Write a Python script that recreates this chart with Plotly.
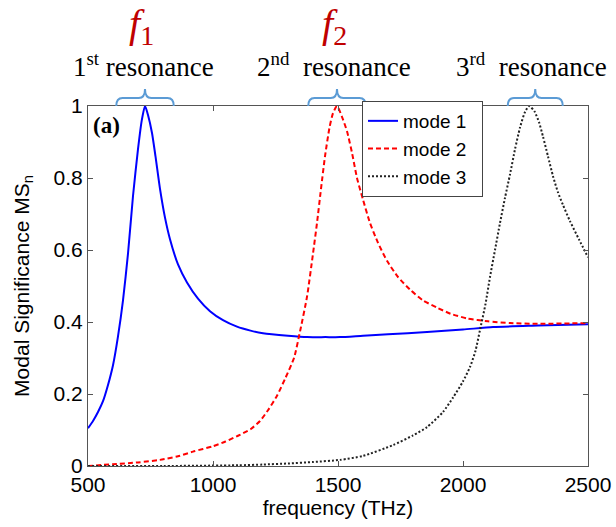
import plotly.graph_objects as go

# ---------------- data ----------------
f_mode1 = [500, 520, 540, 560, 580, 600, 620, 640, 660, 680, 700, 715, 728, 740, 756, 770, 788,
           808, 828, 860, 896, 940, 988, 1040, 1096, 1150, 1200, 1300, 1376, 1450, 1508,
           1600, 1700, 1856, 2000, 2120, 2300, 2500]
ms_mode1 = [0.105, 0.125, 0.15, 0.18, 0.225, 0.28, 0.36, 0.46, 0.59, 0.75, 0.88, 0.96, 1.0,
            0.975, 0.925, 0.86, 0.77, 0.69, 0.63, 0.56, 0.51, 0.465, 0.43, 0.405, 0.387,
            0.376, 0.369, 0.362, 0.358, 0.358, 0.358, 0.362, 0.366, 0.372, 0.379, 0.386,
            0.39, 0.394]

f_mode2 = [500, 600, 700, 788, 860, 920, 1000, 1050, 1100, 1150, 1188, 1220, 1256, 1290, 1324,
           1350, 1376, 1400, 1416, 1432, 1448, 1466, 1480, 1496, 1516, 1536, 1556, 1576, 1600,
           1628, 1660, 1696, 1740, 1788, 1840, 1896, 1950, 2016, 2100, 2188, 2300, 2500]
ms_mode2 = [0.0, 0.005, 0.01, 0.017, 0.027, 0.04, 0.055, 0.068, 0.084, 0.102, 0.125, 0.155,
            0.195, 0.245, 0.30, 0.38, 0.47, 0.59, 0.675, 0.77, 0.86, 0.94, 0.98, 1.0, 0.97,
            0.93, 0.87, 0.80, 0.74, 0.675, 0.62, 0.57, 0.525, 0.49, 0.46, 0.44, 0.423, 0.41,
            0.402, 0.397, 0.395, 0.397]

f_mode3 = [500, 800, 1100, 1200, 1300, 1400, 1508, 1600, 1720, 1800, 1856, 1920, 1960, 2000,
           2028, 2050, 2068, 2090, 2108, 2128, 2148, 2168, 2188, 2208, 2228, 2246, 2264, 2286,
           2304, 2320, 2340, 2360, 2380, 2400, 2428, 2465, 2500]
ms_mode3 = [0.0, 0.0, 0.002, 0.004, 0.007, 0.011, 0.017, 0.028, 0.058, 0.085, 0.108, 0.15,
            0.19, 0.235, 0.275, 0.32, 0.378, 0.45, 0.525, 0.60, 0.675, 0.745, 0.81, 0.88, 0.94,
            0.98, 1.0, 0.985, 0.955, 0.915, 0.86, 0.805, 0.76, 0.725, 0.68, 0.628, 0.58]

series_names = ["mode 1", "mode 2", "mode 3"]
x_ticks = [500, 1000, 1500, 2000, 2500]
y_ticks = [0, 0.2, 0.4, 0.6, 0.8, 1]
y_tick_labels = ["0", "0.2", "0.4", "0.6", "0.8", "1"]
resonance_labels = ["1<sup>st</sup> resonance", "2<sup>nd</sup>  resonance", "3<sup>rd</sup>  resonance"]
freq_labels = ["<i>f</i><sub>1</sub>", "<i>f</i><sub>2</sub>"]

# ---------------- figure ----------------
fig = go.Figure()
fig.add_trace(go.Scatter(x=f_mode1, y=ms_mode1, mode="lines", name=series_names[0] + "  ",
                         line=dict(color="#0000ff", width=2, dash="solid",
                                   shape="spline", smoothing=0.6)))
fig.add_trace(go.Scatter(x=f_mode2, y=ms_mode2, mode="lines", name=series_names[1] + "  ",
                         line=dict(color="#ff0000", width=2, dash="5px,3px",
                                   shape="spline", smoothing=0.6)))
fig.add_trace(go.Scatter(x=f_mode3, y=ms_mode3, mode="lines", name=series_names[2] + "  ",
                         line=dict(color="#222222", width=2, dash="2px,2px",
                                   shape="spline", smoothing=0.6)))

L, R, T, B = 88, 28, 106, 61
W, H = 616, 527
PW, PH = W - L - R, H - T - B


def px_to_paper_y(py):
    return (H - B - py) / PH


# peak positions derived from data
peaks = []
for fx, my in [(f_mode1, ms_mode1), (f_mode2, ms_mode2), (f_mode3, ms_mode3)]:
    i = max(range(len(my)), key=lambda k: my[k])
    peaks.append(fx[i])

brace_half = [115, 115, 110]
brace_shift = [0, 0, 25]
y0 = px_to_paper_y(106)
ym = px_to_paper_y(98)
yt = px_to_paper_y(89)
for k, pk in enumerate(peaks):
    c = pk + brace_shift[k]
    a, b = c - brace_half[k], c + brace_half[k]
    d = 25
    path = (f"M {a},{y0} Q {a},{ym} {a+d},{ym} L {c-d},{ym} Q {c},{ym} {c},{yt} "
            f"Q {c},{ym} {c+d},{ym} L {b-d},{ym} Q {b},{ym} {b},{y0}")
    fig.add_shape(type="path", path=path, xref="x", yref="paper",
                  line=dict(color="#5b9bd5", width=2), layer="above")

res_x = [143, 334, 531]
for k, lab in enumerate(resonance_labels):
    fig.add_annotation(text=lab, x=(res_x[k] - L) / PW, y=px_to_paper_y(65), xref="paper",
                       yref="paper", showarrow=False, xanchor="center", yanchor="middle",
                       font=dict(family="Liberation Serif", size=27, color="#000000"))

f_x = [141, 334]
for k, lab in enumerate(freq_labels):
    fig.add_annotation(text=lab, x=(f_x[k] - L) / PW, y=px_to_paper_y(26), xref="paper",
                       yref="paper", showarrow=False, xanchor="center", yanchor="middle",
                       font=dict(family="Liberation Serif", size=40, color="#c00000"))

fig.add_annotation(text="<b>(a)</b>", x=(91 - L) / PW, y=px_to_paper_y(125), xref="paper",
                   yref="paper", showarrow=False, xanchor="left", yanchor="middle",
                   font=dict(family="Liberation Serif", size=23, color="#000000"))

axis_common = dict(showline=True, linecolor="#555555", linewidth=1, mirror="ticks",
                   ticks="inside", ticklen=5, tickcolor="#555555", showgrid=False,
                   zeroline=False,
                   tickfont=dict(family="Liberation Sans", size=21, color="#000000"))

fig.update_xaxes(range=[500, 2500], tickvals=x_ticks, ticktext=[str(v) for v in x_ticks],
                 automargin=False,
                 title=dict(text="frequency (THz)", standoff=2,
                            font=dict(family="Liberation Sans", size=21, color="#000000")),
                 **axis_common)
fig.update_yaxes(range=[0, 1], tickvals=y_ticks, ticktext=y_tick_labels,
                 title=dict(text="Modal Significance MS<sub>n</sub>", standoff=18,
                            font=dict(family="Liberation Sans", size=21, color="#000000")),
                 **axis_common)

fig.update_layout(
    width=W, height=H,
    margin=dict(l=L, r=R, t=T, b=B, pad=0, autoexpand=False),
    paper_bgcolor="white", plot_bgcolor="white",
    hovermode=False,
    legend=dict(x=(362 - L) / PW, y=px_to_paper_y(101), xanchor="left", yanchor="top",
                bgcolor="white", bordercolor="#444444", borderwidth=1,
                font=dict(family="Liberation Sans", size=19, color="#000000"),
                tracegroupgap=0),
)

fig.write_html("out.html")
